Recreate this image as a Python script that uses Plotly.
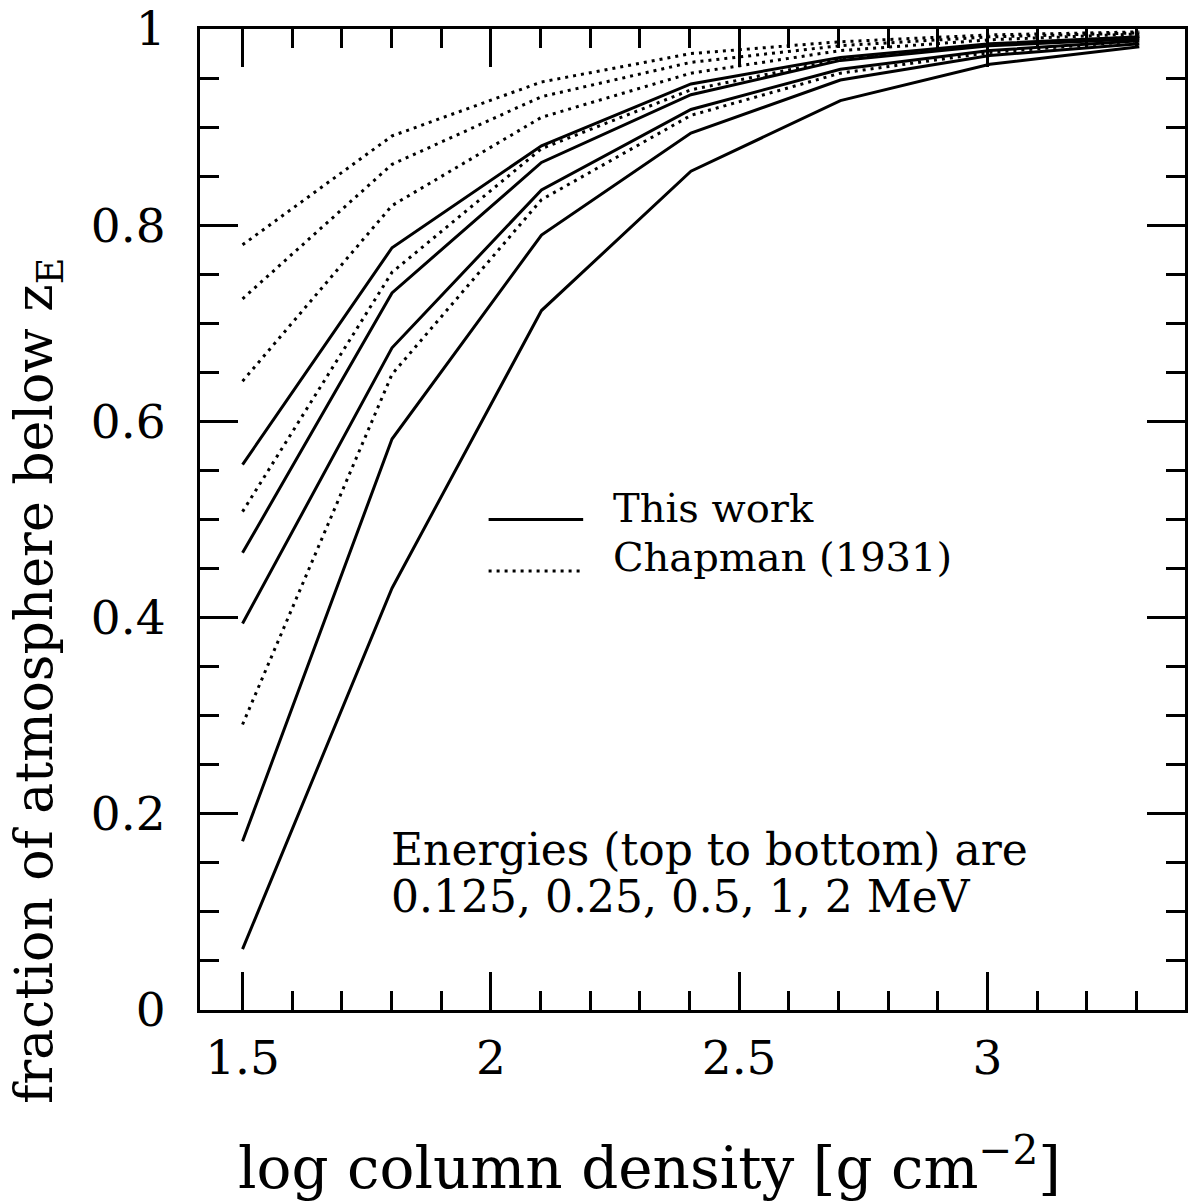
import plotly.graph_objects as go

# ---------------------------------- #
#                DATA                #
# ---------------------------------- #

# log column density, one point per doubling of column
log_column = [1.5, 1.801, 2.102, 2.403, 2.704, 3.005, 3.306]

energies = ['0.125', '0.25', '0.5', '1', '2']  # MeV, top to bottom

# fraction of atmosphere below z_E - this work (solid)
this_work = {
    '0.125': [0.556, 0.777, 0.881, 0.944, 0.971, 0.985, 0.992],
    '0.25':  [0.466, 0.731, 0.864, 0.933, 0.968, 0.983, 0.990],
    '0.5':   [0.394, 0.675, 0.836, 0.918, 0.959, 0.978, 0.988],
    '1':     [0.172, 0.582, 0.790, 0.894, 0.948, 0.973, 0.985],
    '2':     [0.062, 0.430, 0.713, 0.855, 0.927, 0.964, 0.982],
}

# Chapman (1931) (dotted)
chapman = {
    '0.125': [0.780, 0.891, 0.946, 0.975, 0.987, 0.994, 0.997],
    '0.25':  [0.725, 0.862, 0.931, 0.966, 0.983, 0.992, 0.996],
    '0.5':   [0.641, 0.820, 0.910, 0.955, 0.978, 0.989, 0.995],
    '1':     [0.508, 0.752, 0.878, 0.938, 0.969, 0.984, 0.992],
    '2':     [0.291, 0.648, 0.826, 0.912, 0.955, 0.976, 0.988],
}

x_ticks = [1.5, 2, 2.5, 3]
x_ticktext = ['1.5', '2', '2.5', '3']
y_ticks = [0, 0.2, 0.4, 0.6, 0.8, 1]
y_ticktext = ['0', '0.2', '0.4', '0.6', '0.8', '1']

# ---------------------------------- #
#               STYLE                #
# ---------------------------------- #

FONT = 'DejaVu Serif'
INK = 'black'
DOTS = '3px,5px'

fig = go.Figure()

for e in energies:
    fig.add_trace(go.Scatter(
        x=log_column, y=this_work[e], mode='lines',
        name='This work, ' + e + ' MeV',
        line=dict(color=INK, width=3),
        showlegend=False))

for e in energies:
    fig.add_trace(go.Scatter(
        x=log_column, y=chapman[e], mode='lines',
        name='Chapman (1931), ' + e + ' MeV',
        line=dict(color=INK, width=3, dash=DOTS),
        showlegend=False))

# hand-drawn key, like the original
fig.add_shape(type='line', xref='paper', yref='paper',
              x0=0.293, x1=0.389, y0=0.5, y1=0.5,
              line=dict(color=INK, width=3))
fig.add_shape(type='line', xref='paper', yref='paper',
              x0=0.293, x1=0.389, y0=0.4475, y1=0.4475,
              line=dict(color=INK, width=3, dash=DOTS))

fig.add_annotation(xref='paper', yref='paper', x=0.417, y=0.512,
                   text='This work', showarrow=False,
                   xanchor='left', yanchor='middle',
                   font=dict(family=FONT, size=40, color=INK))
fig.add_annotation(xref='paper', yref='paper', x=0.417, y=0.4616,
                   text='Chapman (1931)', showarrow=False,
                   xanchor='left', yanchor='middle',
                   font=dict(family=FONT, size=40, color=INK))

fig.add_annotation(xref='paper', yref='paper', x=0.192, y=0.1636,
                   text='Energies (top to bottom) are',
                   showarrow=False, xanchor='left', yanchor='middle',
                   font=dict(family=FONT, size=44, color=INK))
fig.add_annotation(xref='paper', yref='paper', x=0.192, y=0.116,
                   text='0.125, 0.25, 0.5, 1, 2 MeV',
                   showarrow=False, xanchor='left', yanchor='middle',
                   font=dict(family=FONT, size=44, color=INK))

# axis titles placed as annotations (they sit off-centre in the original)
fig.add_annotation(xref='paper', yref='paper', x=0.456, y=-0.157,
                   text='log column density [g cm<sup>\u22122</sup>]',
                   showarrow=False, xanchor='center', yanchor='middle',
                   font=dict(family=FONT, size=58, color=INK))
fig.add_annotation(xref='paper', yref='paper', x=-0.164, y=0.336,
                   text='fraction of atmosphere below z<sub>E</sub>',
                   showarrow=False, textangle=-90,
                   xanchor='center', yanchor='middle',
                   font=dict(family=FONT, size=52, color=INK))

fig.update_xaxes(
    range=[1.4143, 3.398],
    tickvals=x_ticks, ticktext=x_ticktext,
    ticks='inside', ticklen=38, tickwidth=2.5, tickcolor=INK,
    minor=dict(dtick=0.1, tick0=1.5, ticks='inside', ticklen=19,
               tickwidth=2.5, tickcolor=INK),
    showline=True, linewidth=3, linecolor=INK, mirror='allticks',
    showgrid=False, zeroline=False,
    ticklabelstandoff=5, ticklabeloverflow='allow',
    tickfont=dict(family=FONT, size=47, color=INK))

fig.update_yaxes(
    range=[0, 1],
    tickvals=y_ticks, ticktext=y_ticktext,
    ticks='inside', ticklen=38, tickwidth=2.5, tickcolor=INK,
    minor=dict(dtick=0.05, tick0=0, ticks='inside', ticklen=19,
               tickwidth=2.5, tickcolor=INK),
    showline=True, linewidth=3, linecolor=INK, mirror='allticks',
    showgrid=False, zeroline=False,
    ticklabelstandoff=22, ticklabeloverflow='allow',
    tickfont=dict(family=FONT, size=47, color=INK))

fig.update_layout(
    width=1189, height=1202,
    plot_bgcolor='white', paper_bgcolor='white',
    font_family=FONT,
    margin=dict(l=200, r=1, t=20, b=192),
)

# drop the page's default body margin so the figure sits at the corner
fig.write_html('out.html',
               config={'displayModeBar': False},
               post_script="document.body.style.margin='0';")
